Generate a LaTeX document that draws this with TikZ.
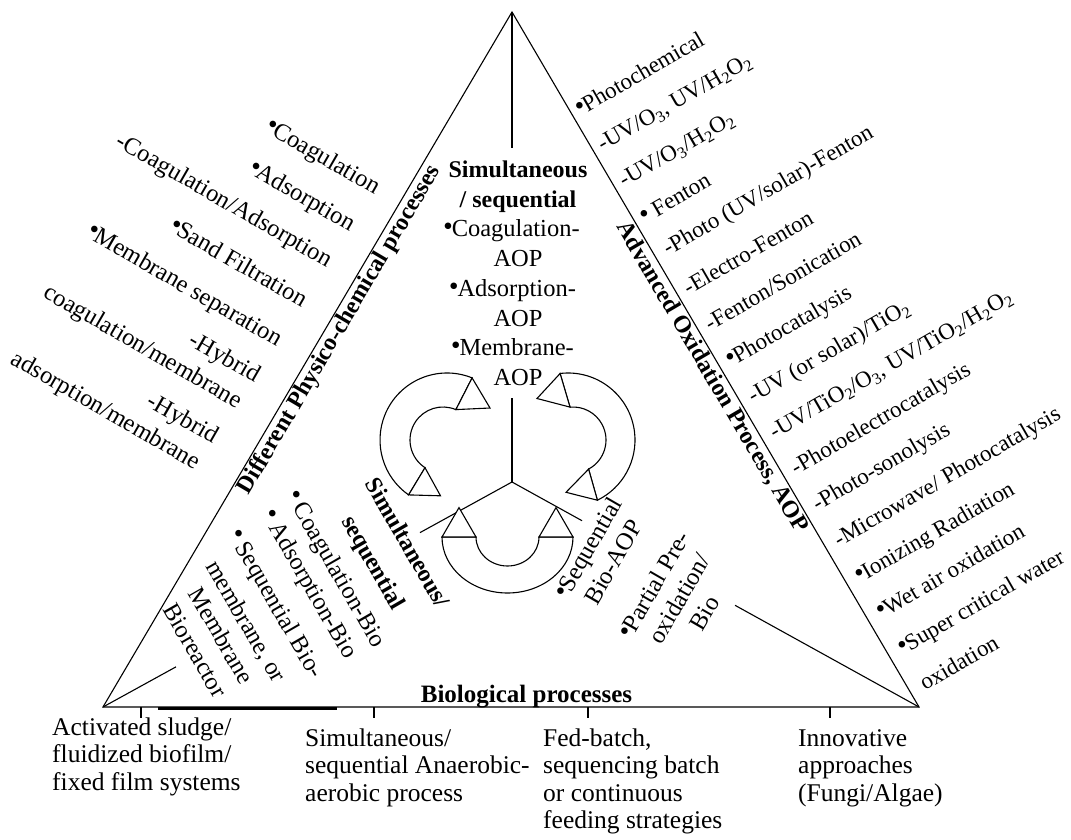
\documentclass[tikz,border=0pt]{standalone}
\usepackage{fontspec}
\setmainfont{Liberation Serif}
\newfontfamily\dejavu{DejaVu Sans}
\usetikzlibrary{calc}
\newcommand{\bul}{\raisebox{0.33em}{\dejavu\fontsize{8.5}{8.5}\selectfont ●}}
\tikzset{
  ln/.style={line width=1.1pt},
  txt/.style={inner sep=0pt, font=\fontsize{24.5}{29}\selectfont},
  rtxt/.style={inner sep=0pt, font=\fontsize{23}{28}\selectfont},
  btxt/.style={inner sep=0pt, font=\fontsize{25.5}{28}\selectfont},
  hd/.style={inner sep=0pt, font=\bfseries\fontsize{24}{29}\selectfont},
  band/.style={draw, line width=1.1pt, fill=white},
  vmid/.style={text height=0.7em, text depth=0.25em}
}
\begin{document}
\begin{tikzpicture}[x=1pt,y=-1pt]
\useasboundingbox (0,0) rectangle (1071,840);
\coordinate (A) at (512,12);
\coordinate (L) at (103,707);
\coordinate (R) at (919,707);
\coordinate (C) at (512,482);
\coordinate (vt) at (512,148);
\coordinate (vb) at (512,398);
% triangle and inner lines
\draw[ln] (A) -- (L) -- (R) -- cycle;
\draw[ln] (A) -- (vt);
\draw[ln] (vb) -- (C);
\draw[ln] (C) -- ($(C)!0.225!(L)$);
\draw[ln] ($(C)!0.8215!(L)$) -- (L);
\draw[ln] (C) -- ($(C)!0.172!(R)$);
\draw[ln] ($(C)!0.548!(R)$) -- (R);
\draw[line width=3pt] (158,708.5) -- (337,708.5);
\foreach \x in {141,374,588,830} \draw[ln] (\x,707) -- (\x,718);

% left curved arrow
\draw[band] ($(447,440)+(-68:67)$) arc[start angle=-68, end angle=-235, radius=67]
  -- ($(443,440)+(-237:33)$) arc[start angle=-237, end angle=-67, radius=33] -- cycle;
\draw[band] (472.1,377.9) -- (455.9,409.6) -- (490,408) -- cycle;
\draw[band] (408.6,494.9) -- (425,467.7) -- (440.5,495.8) -- cycle;
% right curved arrow
\draw[band] ($(568,440)+(-96.8:67)$) arc[start angle=-96.8, end angle=64, radius=67]
  -- ($(573,440)+(61.8:33)$) arc[start angle=61.8, end angle=-95.2, radius=33] -- cycle;
\draw[band] (560.1,373.5) -- (570,407.1) -- (537,398.5) -- cycle;
\draw[band] (597.4,500.2) -- (588.6,469.1) -- (566,492.3) -- cycle;
% bottom curved arrow
\draw[band] (442,537) arc[start angle=180, end angle=0, x radius=65.5, y radius=56]
  -- (539,537) arc[start angle=0, end angle=180, x radius=31.5, y radius=29] -- cycle;
\draw[band] (442,537) -- (476,537) -- (459,507.6) -- cycle;
\draw[band] (539,537) -- (573,537) -- (556,507.6) -- cycle;

% side headings
\node[hd, rotate=59.5, anchor=north] (hpc) at (330.1,324.2) {Different Physico-chemical processes};
\node[hd, rotate=-59.6, anchor=north] (haop) at (721,372) {Advanced Oxidation Process, AOP};
\node[hd, font=\bfseries\fontsize{25}{29}\selectfont, anchor=base] (hbio) at (526.5,702) {Biological processes};

% left block
\node[txt, rotate=-30, anchor=base east] (l1) at (375,195) {\bul Coagulation};
\node[txt, rotate=-30, anchor=base east] (l2) at (350,232) {\bul Adsorption};
\node[txt, rotate=-30, anchor=base east] (l3) at (327,268) {-Coagulation/Adsorption};
\node[txt, rotate=-30, anchor=base east] (l4) at (302,308) {\bul Sand Filtration};
\node[txt, rotate=-30, anchor=base east] (l5) at (277,347) {\bul Membrane separation};
\node[txt, rotate=-30, anchor=base east] (l6) at (255,383) {-Hybrid};
\node[txt, rotate=-30, anchor=base east] (l7) at (237,409) {coagulation/membrane};
\node[txt, rotate=-30, anchor=base east] (l8) at (213,444) {-Hybrid};
\node[txt, rotate=-30, anchor=base east] (l9) at (195,470) {adsorption/membrane};

% right block
\node[rtxt, rotate=30, anchor=base west] (r0) at (581,116) {\bul Photochemical};
\node[rtxt, rotate=30, anchor=base west] (r1) at (602.5,151.9) {-UV/O\textsubscript{3}, UV/H\textsubscript{2}O\textsubscript{2}};
\node[rtxt, rotate=30, anchor=base west] (r2) at (624,187.9) {-UV/O\textsubscript{3}/H\textsubscript{2}O\textsubscript{2}};
\node[rtxt, rotate=30, anchor=base west] (r3) at (645.5,223.8) {\bul\ Fenton};
\node[rtxt, rotate=30, anchor=base west] (r4) at (668,256) {-Photo (UV/solar)-Fenton};
\node[rtxt, rotate=30, anchor=base west] (r5) at (688.5,295.7) {-Electro-Fenton};
\node[rtxt, rotate=30, anchor=base west] (r6) at (710,331.6) {-Fenton/Sonication};
\node[rtxt, rotate=30, anchor=base west] (r7) at (731.5,367.6) {\bul Photocatalysis};
\node[rtxt, rotate=30, anchor=base west] (r8) at (753,403.5) {-UV (or solar)/TiO\textsubscript{2}};
\node[rtxt, rotate=30, anchor=base west] (r9) at (774.5,439.5) {-UV/TiO\textsubscript{2}/O\textsubscript{3}, UV/TiO\textsubscript{2}/H\textsubscript{2}O\textsubscript{2}};
\node[rtxt, rotate=30, anchor=base west] (r10) at (796,475.4) {-Photoelectrocatalysis};
\node[rtxt, rotate=30, anchor=base west] (r11) at (817.5,511.3) {-Photo-sonolysis};
\node[rtxt, rotate=30, anchor=base west] (r12) at (839,547.3) {-Microwave/ Photocatalysis};
\node[rtxt, rotate=30, anchor=base west] (r13) at (860.5,583.2) {\bul Ionizing Radiation};
\node[rtxt, rotate=30, anchor=base west] (r14) at (882,619.2) {\bul Wet air oxidation};
\node[rtxt, rotate=30, anchor=base west] (r15) at (903.5,655.1) {\bul Super critical water};
\node[rtxt, rotate=30, anchor=base west] (r16) at (925,691) {oxidation};

% centre block
\node[hd, anchor=base] (c1) at (518,177.5) {Simultaneous};
\node[hd, anchor=base] (c2) at (518,207.2) {/ sequential};
\node[txt, anchor=base] (c3) at (512,236.9) {\bul Coagulation-};
\node[txt, anchor=base] (c4) at (518,266.6) {AOP};
\node[txt, anchor=base] (c5) at (513,296.3) {\bul Adsorption-};
\node[txt, anchor=base] (c6) at (518,326) {AOP};
\node[txt, anchor=base] (c7) at (513,355.7) {\bul Membrane-};
\node[txt, anchor=base] (c8) at (518,385.4) {AOP};

% lower-left block
\node[hd, vmid, rotate=-60] (s1) at (402.8,545.7) {Simultaneous/};
\node[hd, vmid, rotate=-60] (s2) at (369,565.2) {sequential};
\node[txt, vmid, rotate=-60] (s3) at (331.8,571.7) {\bul\ Coagulation-Bio};
\node[txt, vmid, rotate=-60] (s4) at (305.4,586.9) {\bul\ Adsorption-Bio};
\node[txt, vmid, rotate=-60] (s5) at (271.6,606.4) {\bul\ Sequential Bio-};
\node[txt, vmid, rotate=-60] (s6) at (241.3,623.9) {membrane, or};
\node[txt, vmid, rotate=-60] (s7) at (216.2,638.4) {Membrane};
\node[txt, vmid, rotate=-60] (s8) at (190.2,653.4) {Bioreactor};

% lower-right block
\node[txt, vmid, rotate=60] (q1) at (593.3,550.4) {\bul Sequential};
\node[txt, vmid, rotate=60] (q2) at (618.4,564.9) {Bio-AOP};
\node[txt, vmid, rotate=60] (p1) at (659.2,587.3) {\bul Partial Pre-};
\node[txt, vmid, rotate=60] (p2) at (684.3,601.8) {oxidation/};
\node[txt, vmid, rotate=60] (p3) at (709.4,616.3) {Bio};

% bottom labels
\node[btxt, anchor=base west] (b11) at (52,735) {Activated sludge/};
\node[btxt, anchor=base west] (b12) at (52,762.5) {fluidized biofilm/};
\node[btxt, anchor=base west] (b13) at (52,790) {fixed film systems};
\node[btxt, anchor=base west] (b21) at (305,746) {Simultaneous/};
\node[btxt, anchor=base west] (b22) at (305,773.5) {sequential Anaerobic-};
\node[btxt, anchor=base west] (b23) at (305,801) {aerobic process};
\node[btxt, anchor=base west] (b31) at (543,746) {Fed-batch,};
\node[btxt, anchor=base west] (b32) at (543,773.5) {sequencing batch};
\node[btxt, anchor=base west] (b33) at (543,801) {or continuous};
\node[btxt, anchor=base west] (b34) at (543,828.5) {feeding strategies};
\node[btxt, anchor=base west] (b41) at (798,746) {Innovative};
\node[btxt, anchor=base west] (b42) at (798,773.5) {approaches};
\node[btxt, anchor=base west] (b43) at (798,801) {(Fungi/Algae)};
\end{tikzpicture}
\end{document}
